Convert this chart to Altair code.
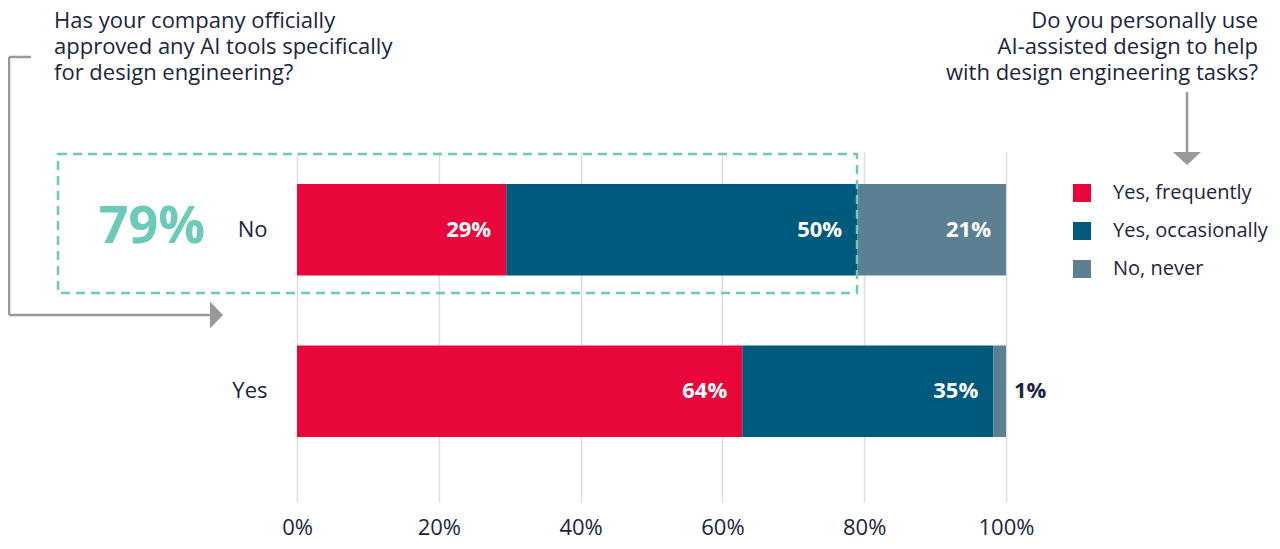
import pandas as pd
import altair as alt

FONT = 'Open Sans'
TEXT = '#1b2540'

questions = ['No', 'Yes']
answers = ['Yes, frequently', 'Yes, occasionally', 'No, never']
colors = ['#e8063a', '#005a7d', '#5b7f93']

no_values = [29.5, 49.5, 21.0]
yes_values = [62.8, 35.4, 1.8]
no_labels = ['29%', '50%', '21%']
yes_labels = ['64%', '35%', '1%']

x_ticks = [0, 20, 40, 60, 80, 100]

left_question = 'Has your company officially\napproved any AI tools specifically\nfor design engineering?'
right_question = 'Do you personally use\nAI-assisted design to help\nwith design engineering tasks?'
highlight = '79%'

rows = []
for q, vals, labs in [('No', no_values, no_labels), ('Yes', yes_values, yes_labels)]:
    start = 0
    for a, v, l in zip(answers, vals, labs):
        rows.append({'question': q, 'answer': a, 'value': v,
                     'start': start, 'end': start + v, 'label': l})
        start += v
df = pd.DataFrame(rows)

x_scale = alt.Scale(domain=[0, 100], nice=False)
# bars sit a bit above the middle of the plot area: align < 0.5
y_scale = alt.Scale(domain=questions, paddingInner=0.434, paddingOuter=0.301, align=0.33)

base = alt.Chart(df)

bars = base.mark_bar().encode(
    x=alt.X('start:Q', scale=x_scale,
            axis=alt.Axis(values=x_ticks, labelExpr="datum.value + '%'", title=None,
                          domain=False, ticks=False, tickSize=0, grid=True,
                          gridColor='#dcdcdc', gridWidth=1.5, labelFontSize=22,
                          labelColor=TEXT, labelPadding=15, labelFlush=False,
                          labelFont=FONT)),
    x2='end:Q',
    y=alt.Y('question:N', scale=y_scale,
            axis=alt.Axis(title=None, domain=False, ticks=False, tickSize=0,
                          labelFontSize=22, labelColor=TEXT, labelPadding=30,
                          labelFont=FONT)),
    color=alt.Color('answer:N', scale=alt.Scale(domain=answers, range=colors),
                    legend=alt.Legend(title=None, orient='none', legendX=775, legendY=31,
                                      symbolType='square', symbolSize=324,
                                      symbolStrokeWidth=0, labelFontSize=20,
                                      labelColor=TEXT, labelFont=FONT, labelOffset=21,
                                      labelLimit=400, rowPadding=18, padding=0)),
)

inside = base.transform_filter('datum.value >= 5').mark_text(
    align='right', baseline='middle', dx=-15, font=FONT, fontSize=22,
    fontWeight='bold', color='white'
).encode(x=alt.X('end:Q', scale=x_scale), y=alt.Y('question:N', scale=y_scale), text='label:N')

outside = base.transform_filter('datum.value < 5').mark_text(
    align='left', baseline='middle', dx=8, font=FONT, fontSize=22,
    fontWeight='bold', color=TEXT
).encode(x=alt.X('end:Q', scale=x_scale), y=alt.Y('question:N', scale=y_scale), text='label:N')

one = pd.DataFrame({'k': [0]})

box = alt.Chart(one).mark_rect(
    fill=None, stroke='#6ccbb8', strokeWidth=2.5, strokeDash=[9, 6]
).encode(x=alt.value(-239), x2=alt.value(560), y=alt.value(2), y2=alt.value(141))

big = alt.Chart(pd.DataFrame({'t': [highlight]})).mark_text(
    align='center', baseline='alphabetic', font=FONT, fontSize=52,
    fontWeight='bold', color='#6ccbb8'
).encode(x=alt.value(-145), y=alt.value(91), text='t:N')

q_left = alt.Chart(pd.DataFrame({'t': [left_question]})).mark_text(
    align='left', baseline='top', font=FONT, fontSize=22, color=TEXT,
    lineBreak='\n', lineHeight=26
).encode(x=alt.value(-243), y=alt.value(-141), text='t:N')

q_right = alt.Chart(pd.DataFrame({'t': [right_question]})).mark_text(
    align='right', baseline='top', font=FONT, fontSize=22, color=TEXT,
    lineBreak='\n', lineHeight=26
).encode(x=alt.value(961), y=alt.value(-141), text='t:N')

ARROW = '#999999'
seg = alt.Chart(one).mark_rule(color=ARROW, strokeWidth=2.5)
a1 = seg.encode(x=alt.value(-288), x2=alt.value(-266), y=alt.value(-95), y2=alt.value(-95))
a2 = seg.encode(x=alt.value(-288), x2=alt.value(-288), y=alt.value(-95), y2=alt.value(163))
a3 = seg.encode(x=alt.value(-288), x2=alt.value(-86), y=alt.value(163), y2=alt.value(163))
a4 = seg.encode(x=alt.value(890), x2=alt.value(890), y=alt.value(-60), y2=alt.value(0))

head_right = alt.Chart(one).mark_point(
    shape='M-0.48,-1L0.48,0L-0.48,1Z', filled=True, color=ARROW, size=729, opacity=1
).encode(x=alt.value(-80.5), y=alt.value(163))
head_down = alt.Chart(one).mark_point(
    shape='M-1,-0.46L1,-0.46L0,0.46Z', filled=True, color=ARROW, size=784, opacity=1
).encode(x=alt.value(890), y=alt.value(6.5))

chart = alt.layer(
    bars, inside, outside, box, big, q_left, q_right, a1, a2, a3, a4, head_right, head_down
).properties(
    width=709, height=350,
    padding={'left': 289, 'top': 144, 'right': 266, 'bottom': 39},
    autosize=alt.AutoSizeParams(type='none'),
).configure(font=FONT).configure_view(stroke=None)

chart.save('out.html', embed_options={'renderer': 'svg', 'actions': False})
